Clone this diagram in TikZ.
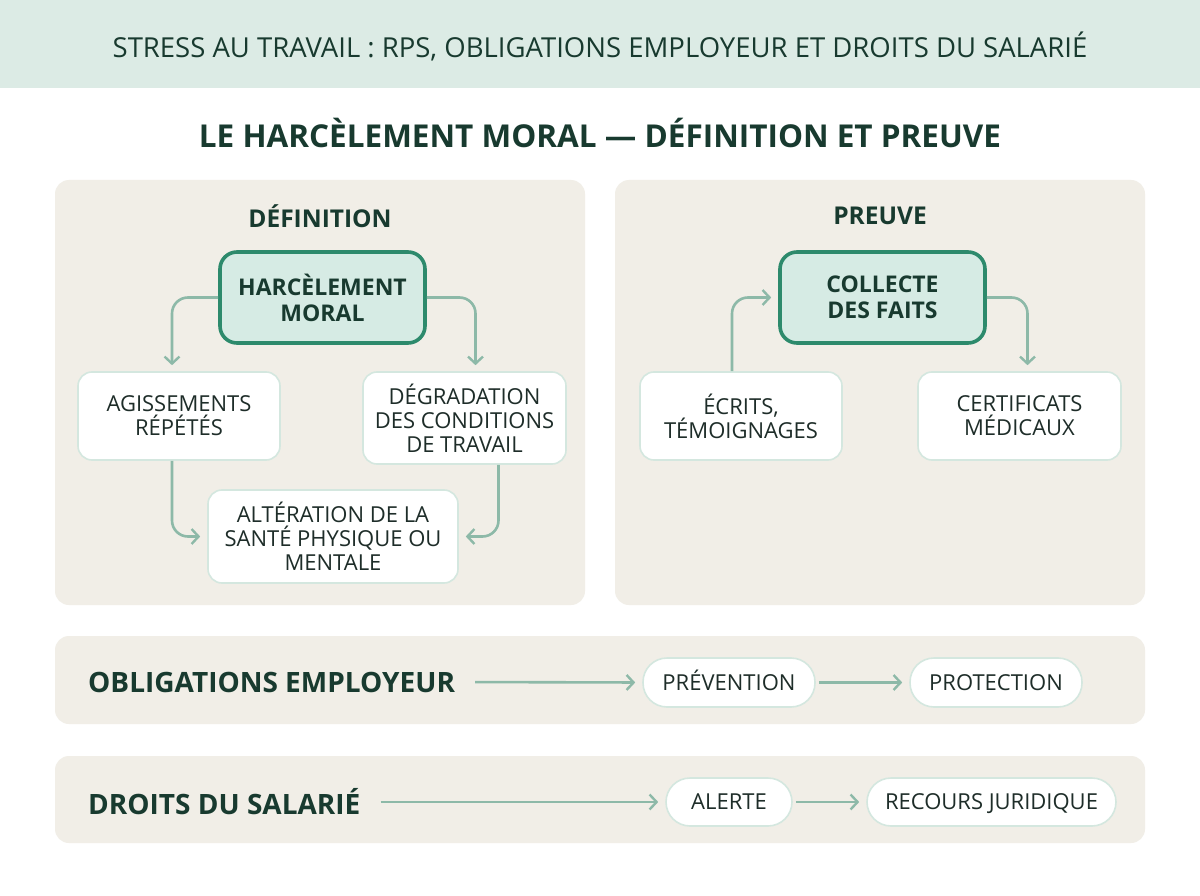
\documentclass[tikz,border=0pt]{standalone}
\usepackage{fontspec}
\setmainfont{Open Sans}
\usetikzlibrary{arrows.meta}
\definecolor{hdr}{HTML}{DCEBE5}
\definecolor{panel}{HTML}{F1EEE7}
\definecolor{ink}{HTML}{1E2D29}
\definecolor{dgreen}{HTML}{183A2F}
\definecolor{arrc}{HTML}{8DB9A8}
\definecolor{wbord}{HTML}{D4E7DF}
\definecolor{keyfill}{HTML}{D6EBE4}
\definecolor{keybord}{HTML}{2D8A6C}
\tikzset{
  x=1pt,y=-1pt,
  panelbox/.style={fill=panel,draw=none,rounded corners=14pt},
  wbox/.style={fill=white,draw=wbord,line width=1.6pt,rounded corners=14pt,align=center,text=ink,font=\fontsize{22}{24}\selectfont,inner sep=0pt},
  keybox/.style={fill=keyfill,draw=keybord,line width=3.6pt,rounded corners=17pt,align=center,text=dgreen,font=\fontsize{23}{26}\selectfont\bfseries,inner sep=0pt},
  pill/.style={fill=white,draw=wbord,line width=1.6pt,rounded corners=24pt,align=center,text=ink,font=\fontsize{22}{24}\selectfont,inner sep=0pt,text height=15.7pt,text depth=0pt},
  arr/.style={draw=arrc,line width=2.6pt,-{Straight Barb[length=7pt,width=15pt,line width=2.4pt]},rounded corners=16pt},
  heading/.style={text=dgreen,font=\fontsize{24.5}{28}\selectfont\bfseries},
  rowlabel/.style={text=dgreen,font=\fontsize{28}{32}\selectfont\bfseries,anchor=west,inner sep=0pt}
}
\begin{document}
\begin{tikzpicture}
\useasboundingbox (0,0) rectangle (1200,896);
\fill[white] (0,0) rectangle (1200,896);
\fill[hdr] (0,0) rectangle (1200,88);
\node (title) at (600,46) [text=dgreen,font=\fontsize{27.5}{31}\selectfont] {STRESS AU TRAVAIL : RPS, OBLIGATIONS EMPLOYEUR ET DROITS DU SALARIÉ};
\node (sub) at (600,133) [text=dgreen,font=\fontsize{31.5}{36}\selectfont\bfseries] {LE HARCÈLEMENT MORAL — DÉFINITION ET PREUVE};
% panels
\fill[panelbox] (55,180) rectangle (585,605);
\fill[panelbox] (615,180) rectangle (1145,605);
\fill[panelbox] (55,636) rectangle (1145,724);
\fill[panelbox] (55,756) rectangle (1145,843);
\node (hdef) at (320,216) [heading] {DÉFINITION};
\node (hpre) at (880,216) [heading] {PREUVE};
% definition
\node (HM) at (322.5,297.5) [keybox,minimum width=205pt,minimum height=91pt] {HARCÈLEMENT\\MORAL};
\node (AG) at (179,416) [wbox,minimum width=202pt,minimum height=88pt] {AGISSEMENTS\\RÉPÉTÉS};
\node (DG) at (464.5,418) [wbox,minimum width=203pt,minimum height=92pt] {DÉGRADATION\\DES CONDITIONS\\DE TRAVAIL};
\node (AL) at (333,536.5) [wbox,minimum width=250pt,minimum height=93pt] {ALTÉRATION DE LA\\SANTÉ PHYSIQUE OU\\MENTALE};
\draw[arr,shorten >=6pt] (HM.west) -| ([xshift=-7pt]AG.north);
\draw[arr,shorten >=6pt] (HM.east) -| ([xshift=11pt]DG.north);
\draw[arr,shorten >=7pt] ([xshift=-7pt]AG.south) |- (AL.west);
\draw[arr,shorten >=7pt] ([xshift=34pt]DG.south) |- (AL.east);
% preuve
\node (CF) at (882.5,297.5) [keybox,minimum width=205pt,minimum height=91pt] {COLLECTE\\DES FAITS};
\node (EC) at (741,416) [wbox,minimum width=202pt,minimum height=88pt] {ÉCRITS,\\TÉMOIGNAGES};
\node (CM) at (1019.5,416) [wbox,minimum width=203pt,minimum height=88pt] {CERTIFICATS\\MÉDICAUX};
\draw[arr,shorten >=7pt] ([xshift=-9pt]EC.north) |- (CF.west);
\draw[arr,shorten >=6pt] (CF.east) -| ([xshift=8pt]CM.north);
% rows
\node (OE) at (88,682) [rowlabel] {OBLIGATIONS EMPLOYEUR};
\node (PRE) at (729,682.5) [pill,minimum width=172pt,minimum height=49pt] {PRÉVENTION};
\node (PRO) at (996,682.5) [pill,minimum width=172pt,minimum height=49pt] {PROTECTION};
\draw[arr,shorten <=20pt,shorten >=7pt] (OE.east) -- (PRE.west);
\draw[arr,shorten <=3pt,shorten >=7pt] (PRE.east) -- (PRO.west);
\node (DS) at (88,802) [rowlabel] {DROITS DU SALARIÉ};
\node (ALE) at (729,802) [pill,minimum width=126pt,minimum height=48pt] {ALERTE};
\node (REC) at (991.5,802) [pill,minimum width=249pt,minimum height=48pt] {RECOURS JURIDIQUE};
\draw[arr,shorten <=20pt,shorten >=7pt] (DS.east) -- (ALE.west);
\draw[arr,shorten <=3pt,shorten >=7pt] (ALE.east) -- (REC.west);
\end{tikzpicture}
\end{document}
